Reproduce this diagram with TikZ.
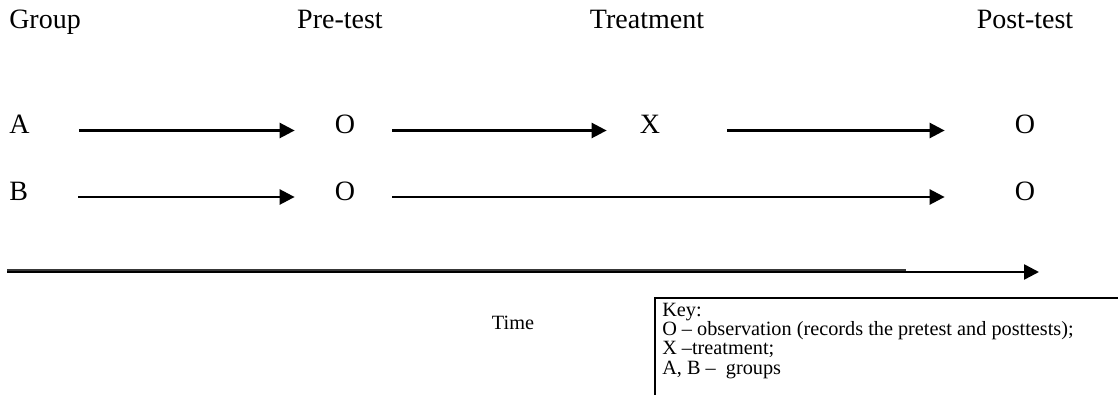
\documentclass[tikz,border=0pt]{standalone}
\usepackage{fontspec}
\setmainfont{Liberation Serif}
\usetikzlibrary{arrows.meta}

\begin{document}
\begin{tikzpicture}[x=0.75pt,y=-0.75pt,
  head/.style={font=\fontsize{21}{25}\selectfont, inner sep=0pt, anchor=base},
  row/.style={font=\fontsize{21}{25}\selectfont, inner sep=0pt, text height=5.25pt, text depth=0pt},
  small/.style={font=\fontsize{15.2}{18}\selectfont, inner sep=0pt, text height=10pt, text depth=2pt, anchor=base west},
  flow/.style={line width=1.9pt, -{Triangle[length=11.25pt,width=11.25pt]}}]
\useasboundingbox (0,0) rectangle (1118,395);

\node[head, anchor=base west] (group) at (9,29) {Group};
\node[head] (pre) at (340,29) {Pre-test};
\node[head] (treat) at (647,29) {Treatment};
\node[head] (post) at (1025,29) {Post-test};

\node[row, anchor=west] (a) at (9,130.5) {A};
\node[row] (oa1) at (345,130.5) {O};
\node[row] (xa) at (650,130.5) {X};
\node[row] (oa2) at (1025,130.5) {O};

\node[row, anchor=west] (b) at (9,197) {B};
\node[row] (ob1) at (345,197) {O};
\node[row] (ob2) at (1025,197) {O};

\path[draw,flow,shorten <=36.75pt,shorten >=30pt] (a) -- (oa1);
\path[draw,flow,shorten <=27.75pt,shorten >=24.75pt] (oa1) -- (xa);
\path[draw,flow,shorten <=50.25pt,shorten >=52.5pt] (xa) -- (oa2);

\path[draw,flow,shorten <=37.5pt,shorten >=30pt] (b) -- (ob1);
\path[draw,flow,shorten <=27.75pt,shorten >=52.5pt] (ob1) -- (ob2);

% time axis
\coordinate (t0) at (7,272);
\coordinate (t1) at (1039,272);
\coordinate (t2) at (906,270);
\path[draw,flow] (t0) -- (t1);
\path[draw,line width=1.9pt,black!78] (t0 |- t2) -- (t2);
\node[small, anchor=base] (time) at (513,330) {Time};

% key
\path[draw,line width=1.5pt] (1125,298) -| (655,400);
\node[small] (key1) at (662,317) {Key:};
\node[small] (key2) at (662,336) {O – observation (records the pretest and posttests);};
\node[small] (key3) at (662,355) {X –treatment;};
\node[small] (key4) at (662,374) {A, B –\ \ groups};
\end{tikzpicture}
\end{document}
